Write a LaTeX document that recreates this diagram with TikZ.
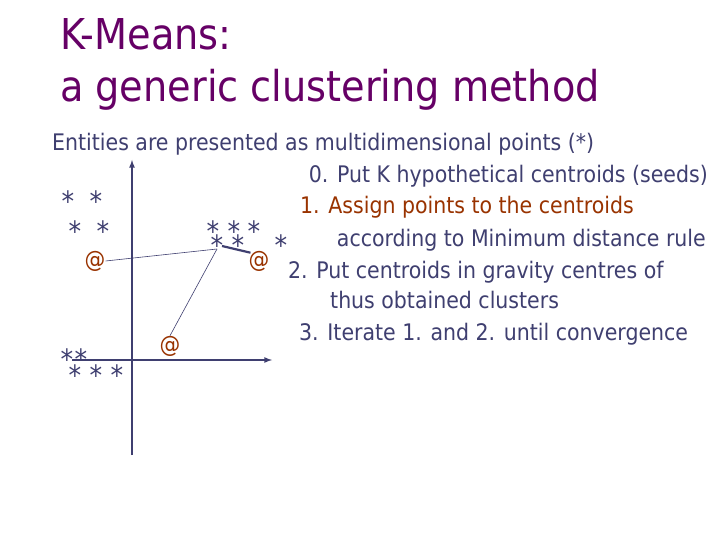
\documentclass[tikz,border=0pt]{standalone}
\usepackage{fontspec}
\setmainfont{DejaVu Sans Condensed}
\begin{document}
\begin{tikzpicture}[x=1pt,y=-1pt,
  ttl/.style={text=titlec,font=\fontsize{42.5}{44}\selectfont,anchor=base west,inner sep=0},
  body/.style={text=bodyc,font=\fontsize{22.8}{24}\selectfont,inner sep=0},
  star/.style={text=bodyc,font=\fontsize{28}{28}\selectfont,inner sep=0},
  cen/.style={text=cenc,font=\fontsize{23}{24}\selectfont,inner sep=0},
  ax/.style={draw=bodyc,line width=1.6pt,-latex}]
\definecolor{titlec}{HTML}{660066}
\definecolor{bodyc}{HTML}{3F3F70}
\definecolor{cenc}{HTML}{993300}
\useasboundingbox (0,0) rectangle (720,540);
\fill[white] (0,0) rectangle (720,540);
\node[ttl] (t1) at (60,50) {K-Means:};
\node[ttl] (t2) at (60,102) {a generic clustering method};
\node[body,anchor=base west] (e) at (52,151) {Entities are presented as multidimensional points (*)};
\node[body,anchor=base east] (s0) at (708,183) {0. Put K hypothetical centroids (seeds)};
\node[body,anchor=base west,text=cenc] (s1) at (300,214) {1. Assign points to the centroids};
\node[body,anchor=base east] (s1b) at (706,246) {according to Minimum distance rule};
\node[body,anchor=base west] (s2) at (288,278) {2. Put centroids in gravity centres of};
\node[body,anchor=base west] (s2b) at (330,308) {thus obtained clusters};
\node[body,anchor=base west] (s3) at (299,340) {3. Iterate 1. and 2. until convergence};
% axes
\coordinate (vb) at (132,455);
\coordinate (vt) at (132,160);
\coordinate (hl) at (72,360);
\coordinate (hr) at (272,360);
\draw[ax] (vb) -- (vt);
\draw[ax] (hl) -- (hr);
% stars
\foreach \n/\x/\y in {a1/68/201,a2/96/201,a3/75/231,a4/103/231,
  b1/213/231,b2/234/231,b3/254/231,b4/217/245,b5/238/245,b6/281/245,
  c1/67/359,c2/81/359,c3/75/375,c4/96/375,c5/117/375}
  \node[star] (\n) at (\x,\y) {*};
\node[cen] (m1) at (95,261) {@};
\node[cen] (m2) at (259,261) {@};
\node[cen] (m3) at (170,346) {@};
\draw[bodyc,line width=0.6pt] (m1.east) -- ([yshift=-4]b4.center);
\draw[bodyc,line width=0.6pt] (m3.north) -- ([yshift=-4]b4.center);
\draw[bodyc,line width=2.2pt] ([shift={(5,1)}]b4.center) -- ([shift={(2,2)}]m2.north west);
\end{tikzpicture}
\end{document}
